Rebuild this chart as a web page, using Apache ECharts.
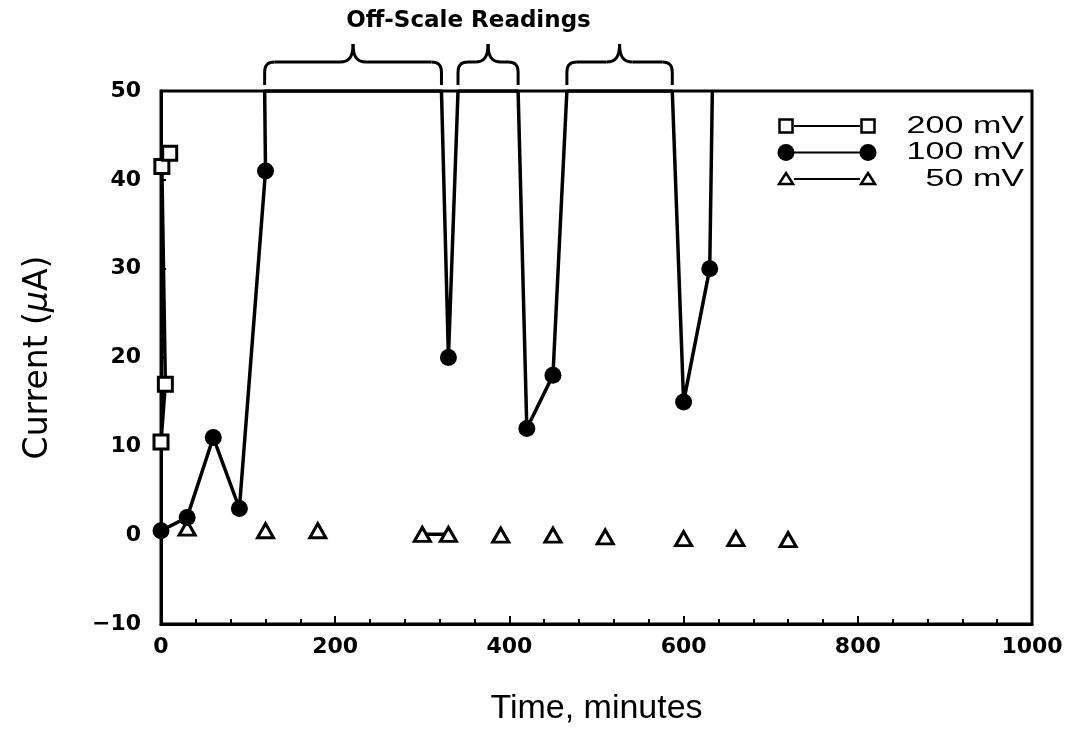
<!DOCTYPE html>
<html>
<head>
<meta charset="utf-8">
<script src="https://cdn.jsdelivr.net/npm/echarts@6/dist/echarts.min.js"></script>
<style>
  html, body { margin: 0; padding: 0; background: #fff; }
  #chart { width: 1066px; height: 731px; }
</style>
</head>
<body>
<div id="chart"></div>
<script>
// Electrode current (µA) versus elapsed time (minutes) at three applied potentials
const seriesNames = ['200 mV', '100 mV', '50 mV'];
const mv200 = [[0, 10.5], [5, 17], [1, 41.5], [10, 43]];
const mv100 = [[0, 0.5], [30, 2], [60, 11], [90, 3], [120, 41], [330, 20], [420, 12], [450, 18], [600, 15], [630, 30]];
const mv50 = [[30, 0.8], [120, 0.5], [180, 0.5], [300, 0.1], [330, 0.1], [390, 0], [450, 0], [510, -0.2], [600, -0.4], [660, -0.4], [720, -0.5]];
// consecutive 50 mV readings that are joined by a segment
const mv50Joined = [[300, 330]];
// time spans (min) where the 100 mV trace ran above full scale
const offScale100 = [[119, 322], [341, 410], [466, 587]];
const offScaleLast = 633; // trace leaves the scale after the last reading
const xScale = { min: 0, max: 1000, interval: 200 };
const yScale = { min: -10, max: 50, interval: 10 };
const offScaleTitle = 'Off-Scale Readings';
const xTitle = 'Time, minutes';
const yTitle = 'Current ({mu|μ}A)';

const FONT = '"Liberation Sans", Arial, sans-serif';
const WIDE = '"DejaVu Sans", sans-serif';

// add the points where a trace leaves / re-enters the top of the scale
function withOffScale(points, spans, lastExit, top) {
  const out = [];
  points.forEach((p, i) => {
    out.push(p);
    const next = points[i + 1];
    spans.forEach(([a, b]) => {
      const mid = (a + b) / 2;
      if (next && p[0] < mid && mid < next[0]) {
        out.push({ value: [a, top], symbol: 'none' });
        out.push({ value: [b, top], symbol: 'none' });
      }
    });
  });
  if (lastExit != null) out.push({ value: [lastExit, top], symbol: 'none' });
  return out;
}

// 50 mV readings are mostly unconnected; break the line except for joined pairs
function withBreaks(points, joined) {
  const out = [];
  points.forEach((p, i) => {
    if (i > 0) {
      const prev = points[i - 1];
      const isJoined = joined.some(([a, b]) => prev[0] === a && p[0] === b);
      if (!isJoined) out.push('-');
    }
    out.push(p);
  });
  return out;
}

const chart = echarts.init(document.getElementById('chart'), null, { renderer: 'canvas' });

const markerBase = { color: '#fff', borderColor: '#000', borderWidth: 3 };
const traceLine = { color: '#000', width: 3.5 };
const tickLabel = { color: '#000', fontWeight: 'bold', fontSize: 22, fontFamily: WIDE };

chart.setOption({
  animation: false,
  backgroundColor: '#fff',
  grid: { left: 161, right: 34, top: 91, bottom: 103, show: true, borderColor: '#000', borderWidth: 3 },
  xAxis: {
    type: 'value',
    min: xScale.min, max: xScale.max, interval: xScale.interval,
    axisLine: { onZero: false, lineStyle: { color: '#000', width: 3 } },
    axisTick: { inside: true, length: 8, lineStyle: { color: '#000', width: 2 } },
    minorTick: { show: true, splitNumber: 5, length: 5, lineStyle: { color: '#000', width: 2 } },
    splitLine: { show: false },
    axisLabel: Object.assign({ margin: 12, formatter: v => String(v) }, tickLabel),
    name: xTitle, nameLocation: 'middle', nameGap: 68,
    nameTextStyle: { color: '#000', fontSize: 34, fontFamily: FONT }
  },
  yAxis: {
    type: 'value',
    min: yScale.min, max: yScale.max, interval: yScale.interval,
    axisLine: { onZero: false, lineStyle: { color: '#000', width: 3 } },
    axisTick: { inside: true, length: 5, lineStyle: { color: '#000', width: 2 } },
    splitLine: { show: false },
    axisLabel: Object.assign({
      margin: 20,
      formatter: v => (v < 0 ? '\u2212' + Math.abs(v) : String(v))
    }, tickLabel),
    name: yTitle, nameLocation: 'middle', nameGap: 106,
    nameTextStyle: {
      color: '#000', fontSize: 33, fontFamily: WIDE,
      rich: { mu: { fontSize: 33, fontStyle: 'italic', fontFamily: WIDE, color: '#000' } }
    }
  },
  series: [
    {
      name: seriesNames[2], type: 'line', data: withBreaks(mv50, mv50Joined),
      connectNulls: false, symbol: 'triangle', symbolSize: [16, 14],
      itemStyle: markerBase, lineStyle: traceLine, z: 2
    },
    {
      name: seriesNames[0], type: 'line', data: mv200,
      symbol: 'rect', symbolSize: 14,
      itemStyle: markerBase, lineStyle: traceLine, z: 3
    },
    {
      name: seriesNames[1], type: 'line',
      data: withOffScale(mv100, offScale100, offScaleLast, yScale.max),
      symbol: 'circle', symbolSize: 17,
      itemStyle: { color: '#000' }, lineStyle: traceLine, z: 4
    }
  ]
});

// ---- curly braces above the plot marking the off-scale spans ----
const strokeStyle = { stroke: '#000', lineWidth: 3, fill: null };
function brace(x1, x2, yb, yh, yp) {
  const xm = (x1 + x2) / 2, r = 10, hw = 13;
  return [
    { type: 'line', shape: { x1: x1, y1: yb, x2: x1, y2: yh + r }, style: strokeStyle },
    { type: 'bezierCurve', shape: { x1: x1, y1: yh + r, cpx1: x1, cpy1: yh + 3, cpx2: x1 + 3, cpy2: yh, x2: x1 + r, y2: yh }, style: strokeStyle },
    { type: 'line', shape: { x1: x1 + r, y1: yh, x2: xm - hw, y2: yh }, style: strokeStyle },
    { type: 'bezierCurve', shape: { x1: xm - hw, y1: yh, cpx1: xm - 4, cpy1: yh, cpx2: xm, cpy2: yh - 5, x2: xm, y2: yp }, style: strokeStyle },
    { type: 'bezierCurve', shape: { x1: xm, y1: yp, cpx1: xm, cpy1: yh - 5, cpx2: xm + 4, cpy2: yh, x2: xm + hw, y2: yh }, style: strokeStyle },
    { type: 'line', shape: { x1: xm + hw, y1: yh, x2: x2 - r, y2: yh }, style: strokeStyle },
    { type: 'bezierCurve', shape: { x1: x2 - r, y1: yh, cpx1: x2 - 3, cpy1: yh, cpx2: x2, cpy2: yh + 3, x2: x2, y2: yh + r }, style: strokeStyle },
    { type: 'line', shape: { x1: x2, y1: yh + r, x2: x2, y2: yb }, style: strokeStyle }
  ];
}

const toPx = (x, y) => chart.convertToPixel({ gridIndex: 0 }, [x, y]);
const topY = toPx(0, yScale.max)[1];
const elements = [];
offScale100.forEach(([a, b]) => {
  elements.push(...brace(toPx(a, 0)[0], toPx(b, 0)[0], topY - 6, topY - 29, topY - 47));
});
const spanL = toPx(offScale100[0][0], 0)[0];
const spanR = toPx(offScale100[offScale100.length - 1][1], 0)[0];
elements.push({
  type: 'text', x: (spanL + spanR) / 2, y: topY - 70,
  style: { text: offScaleTitle, fill: '#000', font: 'bold 23px ' + WIDE, textAlign: 'center', textVerticalAlign: 'middle' }
});

// ---- key: marker, line, marker, then label ----
const keyRows = [
  { name: seriesNames[0], kind: 'square', y: 126 },
  { name: seriesNames[1], kind: 'circle', y: 152.5 },
  { name: seriesNames[2], kind: 'triangle', y: 179 }
];
const keyL = 786, keyR = 868, keyTextRight = 1024;
function keyMarker(kind, cx, cy) {
  if (kind === 'square') {
    return { type: 'rect', shape: { x: cx - 6.5, y: cy - 6.5, width: 13, height: 13 }, style: { fill: '#fff', stroke: '#000', lineWidth: 2.5 } };
  }
  if (kind === 'circle') {
    return { type: 'circle', shape: { cx: cx, cy: cy, r: 8.5 }, style: { fill: '#000' } };
  }
  return { type: 'polygon', shape: { points: [[cx, cy - 6], [cx + 7, cy + 5], [cx - 7, cy + 5]] }, style: { fill: '#fff', stroke: '#000', lineWidth: 2.5 } };
}
keyRows.forEach(row => {
  elements.push({ type: 'line', shape: { x1: keyL + 8, y1: row.y, x2: keyR - 8, y2: row.y }, style: { stroke: '#000', lineWidth: 2 } });
  elements.push(keyMarker(row.kind, keyL, row.y));
  elements.push(keyMarker(row.kind, keyR, row.y));
  elements.push({
    type: 'text', x: keyTextRight, y: row.y, scaleX: 1.42, originX: 0, originY: 0,
    style: { text: row.name, fill: '#000', font: '24px ' + FONT, textAlign: 'right', textVerticalAlign: 'middle' }
  });
});

chart.setOption({ graphic: { elements: elements } });
</script>
</body>
</html>
